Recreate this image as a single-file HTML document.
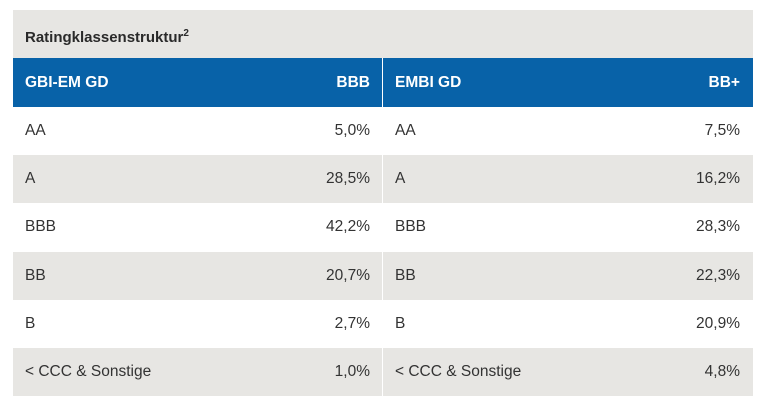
<!DOCTYPE html>
<html><head><style>
body{margin:0;width:772px;height:410px;background:#fff;font-family:"Liberation Sans",sans-serif;position:relative;overflow:hidden}
.t{position:absolute;left:13px;top:10px;width:740px}
.h{height:48px;background:#e7e6e3;color:#2a2a2a;font-weight:bold;font-size:15px;line-height:48px;padding-left:12px}
.h sup{font-size:10px;vertical-align:6px}
.r{display:flex;height:48.2px;font-size:15.5px;color:#333;line-height:48px}
.r.g{background:#e7e6e3}
.r.b{background:#0862a8;color:#fff;font-weight:bold;height:49px;line-height:49px}
.c{width:369px;display:flex;justify-content:space-between;padding:0 12px;box-sizing:border-box}
.c.l{border-right:1px solid #fff;width:370px}
</style></head><body>
<div class="t">
<div class="h">Ratingklassenstruktur<sup>2</sup></div>
<div class="r b"><div class="c l"><span>GBI-EM GD</span><span>BBB</span></div><div class="c"><span>EMBI GD</span><span>BB+</span></div></div>
<div class="r"><div class="c l"><span>AA</span><span>5,0%</span></div><div class="c"><span>AA</span><span>7,5%</span></div></div>
<div class="r g"><div class="c l"><span>A</span><span>28,5%</span></div><div class="c"><span>A</span><span>16,2%</span></div></div>
<div class="r"><div class="c l"><span>BBB</span><span>42,2%</span></div><div class="c"><span>BBB</span><span>28,3%</span></div></div>
<div class="r g"><div class="c l"><span>BB</span><span>20,7%</span></div><div class="c"><span>BB</span><span>22,3%</span></div></div>
<div class="r"><div class="c l"><span>B</span><span>2,7%</span></div><div class="c"><span>B</span><span>20,9%</span></div></div>
<div class="r g"><div class="c l"><span>&lt; CCC &amp; Sonstige</span><span>1,0%</span></div><div class="c"><span>&lt; CCC &amp; Sonstige</span><span>4,8%</span></div></div>
</div>
</body></html>
